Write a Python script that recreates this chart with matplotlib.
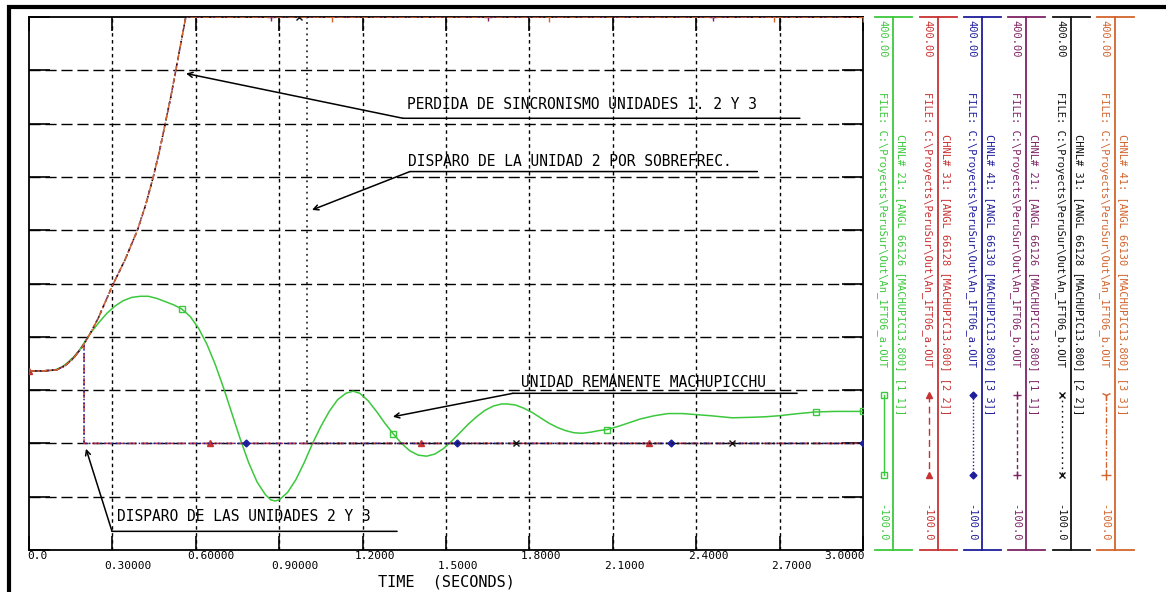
import numpy as np
import matplotlib
matplotlib.use("Agg")
import matplotlib.pyplot as plt
import matplotlib.transforms as mtransforms

# --- axis ticks ---
x_ticks = [0.0, 0.3, 0.6, 0.9, 1.2, 1.5, 1.8, 2.1, 2.4, 2.7, 3.0]
x_tick_labels = ["0.0", "0.30000", "0.60000", "0.90000", "1.2000", "1.5000",
                 "1.8000", "2.1000", "2.4000", "2.7000", "3.0000"]
y_ticks = [-100, -50, 0, 50, 100, 150, 200, 250, 300, 350, 400]

# --- file a: CHNL 21 (unidad 1, remanente) ---
t_u1_a = [0.00, 0.05, 0.08, 0.10, 0.12, 0.14, 0.16, 0.18, 0.20, 0.22, 0.25, 0.28,
          0.31, 0.34, 0.37, 0.40, 0.43, 0.46, 0.49, 0.52, 0.55, 0.58, 0.61, 0.64,
          0.67, 0.70, 0.73, 0.76, 0.79, 0.82, 0.85, 0.87, 0.885, 0.90, 0.93, 0.96,
          0.99, 1.02, 1.05, 1.08, 1.11, 1.14, 1.166, 1.19, 1.22, 1.25, 1.28, 1.31,
          1.34, 1.37, 1.40, 1.43, 1.46, 1.49, 1.52, 1.55, 1.58, 1.61, 1.64, 1.67,
          1.70, 1.72, 1.75, 1.78, 1.81, 1.84, 1.87, 1.90, 1.93, 1.96, 1.99, 2.02,
          2.05, 2.08, 2.12, 2.16, 2.20, 2.25, 2.30, 2.35, 2.40, 2.45, 2.53, 2.60,
          2.65, 2.70, 2.75, 2.83, 2.90, 3.00]
v_u1_a = [68, 68, 68.5, 69.5, 72, 76, 81, 87, 95, 103, 113, 122,
          129, 134, 137, 138, 138, 136, 133, 130, 126, 119, 108, 93,
          74, 52, 28, 4, -18, -36, -48, -53, -54, -53, -46, -34,
          -18, 0, 16, 30, 41, 47, 49, 47, 40, 30, 19, 9,
          0, -7, -11, -12, -10, -5, 2, 10, 18, 25, 31, 35,
          37, 37, 36, 33, 29, 24, 19, 15, 12, 10, 9.5, 10.5,
          12, 13, 16, 19.5, 23, 26, 28, 28, 27, 26, 24, 24.5,
          25, 26, 27.5, 29.5, 30, 30]
mk_u1_a = [0.55, 1.31, 2.08, 2.83, 3.00]

# --- file a: CHNL 31 (unidad 2) disparada ---
t_u2_a = [0.0, 0.05, 0.10, 0.13, 0.16, 0.19, 0.198, 0.198, 0.65, 1.41, 2.23, 3.0]
v_u2_a = [68, 68, 69, 73, 80, 90, 92, 0, 0, 0, 0, 0]
mk_u2_a = [0.0, 0.65, 1.41, 2.23]

# --- file a: CHNL 41 (unidad 3) disparada ---
t_u3_a = [0.0, 0.05, 0.10, 0.13, 0.16, 0.19, 0.198, 0.198, 0.78, 1.54, 2.31, 3.0]
v_u3_a = [68, 68, 69, 73, 80, 90, 92, 0, 0, 0, 0, 0]
mk_u3_a = [0.78, 1.54, 2.31, 3.0]

# --- file b: perdida de sincronismo (fuera de escala sobre 400) ---
t_rise_b = [0.0, 0.05, 0.10, 0.13, 0.16, 0.19, 0.22, 0.25, 0.30, 0.345, 0.39,
            0.42, 0.447, 0.47, 0.49, 0.51, 0.528, 0.546, 0.564]
v_rise_b = [68, 68, 69, 73, 80, 90, 103, 118, 148, 172, 200,
            224, 250, 275, 300, 325, 350, 375, 400]

t_u1_b = t_rise_b + [0.87, 1.65, 2.46, 3.0]
v_u1_b = v_rise_b + [400, 400, 400, 400]
mk_u1_b = [0.87, 1.65, 2.46]

t_u2_b = t_rise_b + [0.97, 1.0, 1.0, 1.75, 2.53, 3.0]
v_u2_b = v_rise_b + [400, 400, 0, 0, 0, 0]
mk_u2_b = [0.97, 1.75, 2.53]

t_u3_b = t_rise_b + [1.09, 1.87, 2.68, 3.0]
v_u3_b = v_rise_b + [400, 400, 400, 400]
mk_u3_b = [1.09, 1.87, 2.68]

# --- legend columns ---
leg_colors = ["#3cc83c", "#c83232", "#1e1e9b", "#7d2364", "#111111", "#d2642d"]
leg_chnl = ["CHNL# 21: [ANGL 66126 [MACHUPIC13.800] [1 1]]",
            "CHNL# 31: [ANGL 66128 [MACHUPIC13.800] [2 2]]",
            "CHNL# 41: [ANGL 66130 [MACHUPIC13.800] [3 3]]",
            "CHNL# 21: [ANGL 66126 [MACHUPIC13.800] [1 1]]",
            "CHNL# 31: [ANGL 66128 [MACHUPIC13.800] [2 2]]",
            "CHNL# 41: [ANGL 66130 [MACHUPIC13.800] [3 3]]"]
leg_files = ["FILE: C:\\Proyects\\PeruSur\\Out\\An_1FT06_a.OUT"] * 3 + \
            ["FILE: C:\\Proyects\\PeruSur\\Out\\An_1FT06_b.OUT"] * 3
leg_max = "400.00"
leg_min = "-100.0"

MONO = "DejaVu Sans Mono"

series = [
    (t_u1_a, v_u1_a, mk_u1_a, dict(color=leg_colors[0], ls="-", marker="s", mfc="none", ms=5)),
    (t_u2_a, v_u2_a, mk_u2_a, dict(color=leg_colors[1], ls=(0, (5, 3)), marker="^", ms=5)),
    (t_u3_a, v_u3_a, mk_u3_a, dict(color=leg_colors[2], ls=(0, (1, 1.5)), marker="D", ms=3.5)),
    (t_u1_b, v_u1_b, mk_u1_b, dict(color=leg_colors[3], ls=(0, (3, 2)), marker="+", ms=6)),
    (t_u2_b, v_u2_b, mk_u2_b, dict(color=leg_colors[4], ls=(0, (1.2, 2.5)), marker="x", ms=5)),
    (t_u3_b, v_u3_b, mk_u3_b, dict(color=leg_colors[5], ls=(0, (4, 1.5, 1, 1.5)), marker="1", ms=7)),
]

fig = plt.figure(figsize=(11.66, 5.92), dpi=100)
ax = fig.add_axes([29 / 1166, 1 - 550 / 592, 834 / 1166, 533 / 592])
ax.set_xlim(0, 3.0)
ax.set_ylim(-100, 400)

# grid
for yv in y_ticks[1:-1]:
    ax.axhline(yv, color="black", lw=1.0, ls=(0, (8, 3.5)), zorder=1)
for xv in x_ticks[1:-1]:
    ax.axvline(xv, color="black", lw=1.0, ls=(0, (2.5, 2.5)), zorder=1)

for t, v, mk, st in series:
    t = np.asarray(t)
    idx = [int(np.argmin(np.abs(t - m))) for m in mk]
    ax.plot(t, v, lw=1.1, markevery=idx, mew=1.0, zorder=3, **st)
# end marker for orange channel
ax.plot(t_u3_b[-1:], v_u3_b[-1:], ls="none", marker="+", color=leg_colors[5], ms=7, zorder=3)

ax.set_xticks(x_ticks)
ax.set_yticks(y_ticks)
ax.set_xticklabels([])
ax.set_yticklabels([])
ax.tick_params(axis="x", direction="in", length=10, width=1.2, top=True, bottom=True)
ax.tick_params(axis="y", direction="in", length=15, width=1.2, left=True, right=True)
for sp in ax.spines.values():
    sp.set_linewidth(1.3)

# staggered time labels
last = len(x_ticks) - 1
for i, (xv, lab) in enumerate(zip(x_ticks, x_tick_labels)):
    dy = -0.5 if i % 2 == 0 else -8
    if i == 0:
        ha, dx = "left", -1.5
    elif i == last:
        ha, dx = "right", 1.5
    else:
        ha, dx = "left", -6
    tr = mtransforms.offset_copy(ax.get_xaxis_transform(), fig=fig, x=dx, y=dy, units="points")
    ax.text(xv, 0, lab, transform=tr, ha=ha, va="top", fontsize=8, family=MONO)
tr = mtransforms.offset_copy(ax.transAxes, fig=fig, x=0, y=-23, units="points")
ax.text(0.5, 0, "TIME  (SECONDS)", transform=tr, ha="center", va="center",
        fontsize=11, family=MONO)

# annotations
notes = [
    ("PERDIDA DE SINCRONISMO UNIDADES 1. 2 Y 3", (1.36, 318), (1.345, 2.773, 305), (0.565, 347)),
    ("DISPARO DE LA UNIDAD 2 POR SOBREFREC.", (1.363, 264), (1.37, 2.62, 255), (1.018, 219)),
    ("UNIDAD REMANENTE MACHUPICCHU", (1.77, 57), (1.741, 2.763, 47), (1.309, 25)),
    ("DISPARO DE LAS UNIDADES 2 Y 3", (0.317, -69), (0.2986, 1.324, -82.5), (0.205, -5)),
]
for txt, (tx, ty), (ux0, ux1, uy), tip in notes:
    ax.text(tx, ty, txt, ha="left", va="center", fontsize=10.5, family=MONO, zorder=5)
    ax.annotate("", xy=(ux1, uy), xytext=(ux0, uy),
                arrowprops=dict(arrowstyle="-", color="black", lw=1.1,
                                shrinkA=0, shrinkB=0), zorder=5)
    ax.annotate("", xy=tip, xytext=(ux0, uy),
                arrowprops=dict(arrowstyle="->", color="black", lw=1.1,
                                shrinkA=0, shrinkB=0, mutation_scale=9), zorder=5)

# overlay in pixel coordinates: legend columns and outer frame
ov = fig.add_axes([0, 0, 1, 1])
ov.set_xlim(0, 1166)
ov.set_ylim(592, 0)
ov.axis("off")

col_x = [893, 938, 982, 1026, 1071, 1115]
for k, cx in enumerate(col_x):
    c = leg_colors[k]
    st = series[k][3]
    ov.plot([cx, cx], [17, 550], color=c, lw=1.3)
    ov.plot([cx - 18, cx + 19], [17, 17], color=c, lw=1.3)
    ov.plot([cx - 18, cx + 19], [550, 550], color=c, lw=1.3)
    ov.text(cx - 11, 20, leg_max, rotation=-90, ha="center", va="top",
            fontsize=7.5, family=MONO, color=c)
    ov.text(cx - 11, 92, leg_files[k], rotation=-90, ha="center", va="top",
            fontsize=7.5, family=MONO, color=c)
    ov.text(cx - 11, 542, leg_min, rotation=-90, ha="center", va="bottom",
            fontsize=7.5, family=MONO, color=c)
    ov.text(cx + 8, 415, leg_chnl[k], rotation=-90, ha="center", va="bottom",
            fontsize=7.5, family=MONO, color=c)
    sample = dict(st)
    if k == 5:
        sample.pop("marker")
        ov.plot([cx - 9, cx - 9], [395, 475], lw=1.0, markevery=[0], marker="1", **sample)
        ov.plot([cx - 9], [475], marker="+", color=c, ms=7, ls="none")
    else:
        ov.plot([cx - 9, cx - 9], [395, 475], lw=1.0, markevery=[0, 1], **sample)

ov.plot([8.5, 8.5], [5, 592], color="black", lw=3.0, solid_capstyle="butt")
ov.plot([7, 1166], [7, 7], color="black", lw=3.0, solid_capstyle="butt")

fig.savefig("out.png", dpi=100)
